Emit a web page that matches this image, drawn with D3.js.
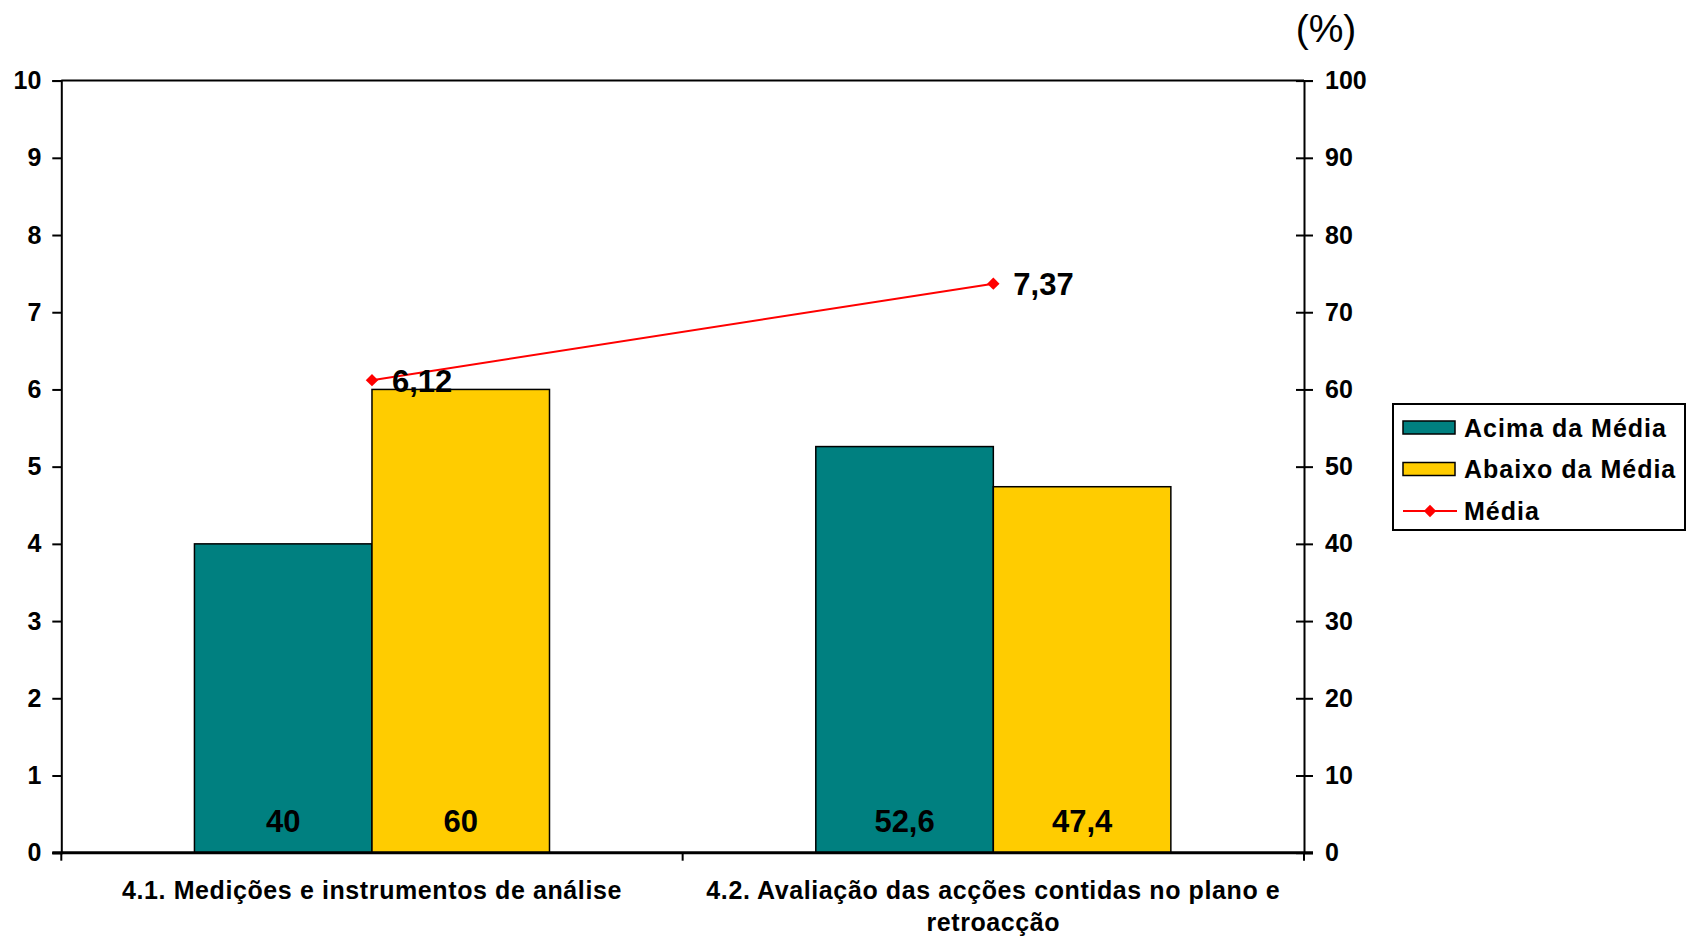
<!DOCTYPE html>
<html>
<head>
<meta charset="utf-8">
<script src="https://cdn.jsdelivr.net/npm/d3@7"></script>
<style>
  html, body { margin: 0; padding: 0; background: #fff; }
  svg { display: block; font-family: "Liberation Sans", Arial, sans-serif; }
</style>
</head>
<body>
<svg id="chart" width="1686" height="939"></svg>
<script>
// ---- data ----
const categories = [
  "4.1. Medições e instrumentos de análise",
  "4.2. Avaliação das acções contidas no plano e retroacção"
];
const seriesNames = ["Acima da Média", "Abaixo da Média"];
const acimaValues = [40, 52.6];
const abaixoValues = [60, 47.4];
const mediaName = "Média";
const mediaValues = [6.12, 7.37];
const leftTicks = [0, 1, 2, 3, 4, 5, 6, 7, 8, 9, 10];
const rightTicks = [0, 10, 20, 30, 40, 50, 60, 70, 80, 90, 100];
const barLabels = [["40", "60"], ["52,6", "47,4"]];
const mediaLabels = ["6,12", "7,37"];
const unitLabel = "(%)";

// ---- layout ----
const colors = { acima: "#008080", abaixo: "#FFCC00", media: "#FF0000" };
const pLeft = 61.3, pRight = 1304, pTop = 80.6, pBottom = 852.7;

const svg = d3.select("#chart");

const x0 = d3.scaleBand().domain(categories).range([pLeft, pRight]).paddingInner(0).paddingOuter(0);
const x1 = d3.scaleBand().domain(seriesNames).range([0, x0.bandwidth()]).paddingInner(0).paddingOuter(0.75);
const yL = d3.scaleLinear().domain([0, 10]).range([pBottom, pTop]);
const yR = d3.scaleLinear().domain([0, 100]).range([pBottom, pTop]);

const barData = categories.map((c, i) => ({
  cat: c,
  vals: [
    { name: seriesNames[0], v: acimaValues[i], color: colors.acima, label: barLabels[i][0] },
    { name: seriesNames[1], v: abaixoValues[i], color: colors.abaixo, label: barLabels[i][1] }
  ]
}));

// bars
const groups = svg.append("g").selectAll("g").data(barData).join("g")
  .attr("transform", d => `translate(${x0(d.cat)},0)`);
groups.selectAll("rect").data(d => d.vals).join("rect")
  .attr("x", d => x1(d.name))
  .attr("width", x1.bandwidth())
  .attr("y", d => yR(d.v))
  .attr("height", d => yR(0) - yR(d.v))
  .attr("fill", d => d.color)
  .attr("stroke", "#000")
  .attr("stroke-width", 1.5);
groups.selectAll("text").data(d => d.vals).join("text")
  .attr("x", d => x1(d.name) + x1.bandwidth() / 2)
  .attr("y", yR(0) - 21)
  .attr("text-anchor", "middle")
  .attr("font-size", 31)
  .attr("font-weight", "bold")
  .text(d => d.label);

// frame
svg.append("line").attr("x1", pLeft).attr("x2", pRight).attr("y1", pTop).attr("y2", pTop)
  .attr("stroke", "#000").attr("stroke-width", 2);

// left axis
const axL = svg.append("g").attr("transform", `translate(${pLeft},0)`)
  .call(d3.axisLeft(yL).tickValues(leftTicks).tickSize(9).tickPadding(11).tickFormat(d3.format("d")));
axL.select(".domain").attr("stroke-width", 2);
axL.selectAll(".tick line").attr("stroke-width", 2);
axL.selectAll("text").attr("font-size", 25).attr("font-weight", "bold").attr("fill", "#000")
  .attr("font-family", "Liberation Sans, Arial, sans-serif");

// right axis
const axR = svg.append("g").attr("transform", `translate(${pRight},0)`)
  .call(d3.axisRight(yR).tickValues(rightTicks).tickSize(9).tickPadding(12).tickFormat(d3.format("d")));
axR.select(".domain").attr("stroke-width", 2);
axR.selectAll(".tick line").attr("x1", -8).attr("stroke-width", 2);
axR.selectAll("text").attr("font-size", 25).attr("font-weight", "bold").attr("fill", "#000")
  .attr("font-family", "Liberation Sans, Arial, sans-serif");

// bottom axis: boundary ticks + baseline
const boundaries = [pLeft].concat(categories.map(c => x0(c) + x0.bandwidth()));
svg.append("line").attr("x1", pLeft - 9).attr("x2", pRight + 9).attr("y1", pBottom).attr("y2", pBottom)
  .attr("stroke", "#000").attr("stroke-width", 3);
svg.append("g").selectAll("line").data(boundaries).join("line")
  .attr("x1", d => d).attr("x2", d => d)
  .attr("y1", pBottom).attr("y2", pBottom + 8)
  .attr("stroke", "#000").attr("stroke-width", 2);

// category labels (wrapped)
const catText = svg.append("g").selectAll("text").data(categories).join("text")
  .attr("x", d => x0(d) + x0.bandwidth() / 2)
  .attr("y", 899)
  .attr("text-anchor", "middle")
  .attr("font-size", 25)
  .attr("font-weight", "bold")
  .attr("letter-spacing", 0.6);
catText.each(function(d) {
  const el = d3.select(this);
  const words = d.split(" ");
  const cx = x0(d) + x0.bandwidth() / 2;
  let line = [];
  let tspan = el.append("tspan").attr("x", cx).attr("dy", 0);
  words.forEach(w => {
    line.push(w);
    tspan.text(line.join(" "));
    if (tspan.node().getComputedTextLength() > 610 && line.length > 1) {
      line.pop();
      tspan.text(line.join(" "));
      line = [w];
      tspan = el.append("tspan").attr("x", cx).attr("dy", 32).text(w);
    }
  });
});

// media line
const mx = c => x0(c) + x0.bandwidth() / 2;
const lineGen = d3.line().x((d, i) => mx(categories[i])).y(d => yL(d));
svg.append("path").datum(mediaValues).attr("d", lineGen)
  .attr("fill", "none").attr("stroke", colors.media).attr("stroke-width", 2);
const diamond = d3.symbol().type(d3.symbolDiamond2).size(98);
svg.append("g").selectAll("path").data(mediaValues).join("path")
  .attr("d", diamond)
  .attr("transform", (d, i) => `translate(${mx(categories[i])},${yL(d)})`)
  .attr("fill", colors.media);
svg.append("g").selectAll("text").data(mediaValues).join("text")
  .attr("x", (d, i) => mx(categories[i]) + 20)
  .attr("y", d => yL(d) + 11.5)
  .attr("font-size", 31)
  .attr("font-weight", "bold")
  .text((d, i) => mediaLabels[i]);

// unit label
svg.append("text").attr("x", 1326).attr("y", 42).attr("text-anchor", "middle")
  .attr("font-size", 39).text(unitLabel);

// legend
const lg = svg.append("g").attr("transform", "translate(1393,404)");
lg.append("rect").attr("width", 292).attr("height", 126)
  .attr("fill", "#fff").attr("stroke", "#000").attr("stroke-width", 2);
const legendItems = [
  { name: seriesNames[0], type: "rect", color: colors.acima, cy: 23.5 },
  { name: seriesNames[1], type: "rect", color: colors.abaixo, cy: 65 },
  { name: mediaName, type: "line", color: colors.media, cy: 107 }
];
legendItems.forEach(it => {
  if (it.type === "rect") {
    lg.append("rect").attr("x", 10).attr("y", it.cy - 6.5).attr("width", 52).attr("height", 13)
      .attr("fill", it.color).attr("stroke", "#000").attr("stroke-width", 1.5);
  } else {
    lg.append("line").attr("x1", 10).attr("x2", 64).attr("y1", it.cy).attr("y2", it.cy)
      .attr("stroke", it.color).attr("stroke-width", 2);
    lg.append("path").attr("d", diamond).attr("transform", `translate(37,${it.cy})`).attr("fill", it.color);
  }
  lg.append("text").attr("x", 71).attr("y", it.cy + 9)
    .attr("font-size", 25).attr("font-weight", "bold").attr("letter-spacing", 1)
    .text(it.name);
});
</script>
</body>
</html>
